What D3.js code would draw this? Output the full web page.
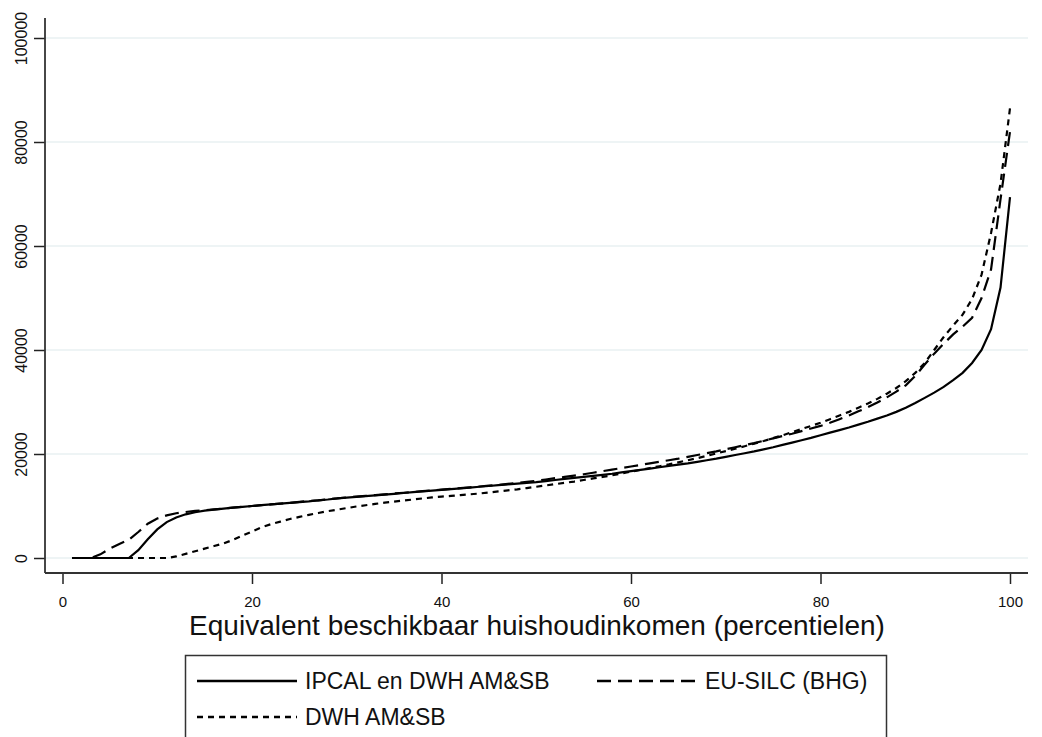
<!DOCTYPE html>
<html>
<head>
<meta charset="utf-8">
<script src="https://d3js.org/d3.v7.min.js"></script>
<style>
  body { margin: 0; background: #fff; }
  svg { display: block; font-family: "Liberation Sans", Arial, sans-serif; }
</style>
</head>
<body>
<svg id="chart" width="1042" height="737"></svg>
<script>
// percentiles of equivalent disposable household income
const percentiles = [
  1, 2, 3, 4, 5, 6, 7, 8, 9, 10, 11, 12, 13, 14, 15, 16, 17, 18, 19, 20,
  21, 22, 23, 24, 25, 26, 27, 28, 29, 30, 31, 32, 33, 34, 35, 36, 37, 38, 39, 40,
  41, 42, 43, 44, 45, 46, 47, 48, 49, 50, 51, 52, 53, 54, 55, 56, 57, 58, 59, 60,
  61, 62, 63, 64, 65, 66, 67, 68, 69, 70, 71, 72, 73, 74, 75, 76, 77, 78, 79, 80,
  81, 82, 83, 84, 85, 86, 87, 88, 89, 90, 91, 92, 93, 94, 95, 96, 97, 98, 99, 100
];

const ipcal = [
  0, 0, 0, 0, 0, 0, 0, 1500, 3600, 5500,
  6900, 7800, 8400, 8800, 9100, 9300, 9500, 9700, 9850, 10000,
  10150, 10300, 10450, 10600, 10750, 10900, 11100, 11250, 11450, 11600,
  11750, 11900, 12050, 12200, 12350, 12500, 12650, 12800, 12950, 13100,
  13250, 13400, 13550, 13700, 13850, 14000, 14150, 14300, 14450, 14600,
  14800, 15000, 15200, 15400, 15600, 15800, 16000, 16200, 16450, 16700,
  16950, 17200, 17450, 17700, 17950, 18200, 18500, 18800, 19100, 19450,
  19800, 20150, 20500, 20900, 21300, 21750, 22200, 22650, 23100, 23600,
  24100, 24600, 25100, 25650, 26200, 26800, 27400, 28100, 28900, 29800,
  30800, 31800, 32900, 34200, 35600, 37500, 40000, 44000, 52000, 69400
];

const eusilc = [
  0, 0, 0, 700, 1800, 2700, 3500, 5000, 6600, 7600,
  8200, 8600, 8850, 9050, 9200, 9350, 9500, 9700, 9850, 10000,
  10150, 10300, 10450, 10600, 10800, 10950, 11100, 11300, 11450, 11650,
  11800, 11950, 12100, 12250, 12400, 12550, 12700, 12850, 13000, 13150,
  13300, 13450, 13600, 13750, 13900, 14050, 14250, 14450, 14650, 14850,
  15100, 15350, 15600, 15850, 16100, 16400, 16700, 17000, 17300, 17600,
  17900, 18200, 18500, 18800, 19100, 19450, 19800, 20150, 20500, 20900,
  21300, 21700, 22100, 22550, 23000, 23450, 23900, 24400, 24900, 25400,
  26000, 26700, 27400, 28200, 29000, 29900, 30900, 32000, 33200, 35000,
  37200, 39300, 41200, 43000, 44500, 46200, 50000, 55500, 69000, 82000
];

const dwh = [
  0, 0, 0, 0, 0, 0, 0, 0, 0, 0,
  0, 300, 800, 1300, 1800, 2300, 2800, 3500, 4300, 5100,
  5900, 6500, 7000, 7500, 7900, 8300, 8650, 9000, 9300, 9600,
  9900, 10150, 10400, 10650, 10850, 11050, 11250, 11450, 11650, 11800,
  11950, 12100, 12250, 12400, 12600, 12800, 13000, 13200, 13450, 13700,
  13950, 14200, 14450, 14700, 15000, 15300, 15600, 15900, 16250, 16600,
  16950, 17300, 17650, 18000, 18400, 18800, 19200, 19650, 20100, 20550,
  21000, 21500, 22000, 22500, 23050, 23600, 24200, 24800, 25400, 26000,
  26700, 27400, 28100, 28900, 29700, 30600, 31600, 32700, 34000, 35600,
  37500, 40000, 42500, 44700, 46800, 49800, 54500, 62500, 72000, 86500
];

const xTicks = [0, 20, 40, 60, 80, 100];
const yTicks = [0, 20000, 40000, 60000, 80000, 100000];

const seriesNames = ["IPCAL en DWH AM&SB", "EU-SILC (BHG)", "DWH AM&SB"];
const xTitle = "Equivalent beschikbaar huishoudinkomen (percentielen)";

const svg = d3.select("#chart");

const plotLeft = 45, plotRight = 1028, plotTop = 18, plotBottom = 573;

const x = d3.scaleLinear().domain([0, 100]).range([62.5, 1010]);
const y = d3.scaleLinear().domain([0, 100000]).range([558, 38]);

// grid lines
svg.append("g")
  .selectAll("line")
  .data(yTicks)
  .enter()
  .append("line")
    .attr("x1", plotLeft)
    .attr("x2", plotRight)
    .attr("y1", d => y(d))
    .attr("y2", d => y(d))
    .attr("stroke", "#e8f0f2")
    .attr("stroke-width", 1.5);

// y axis
const yAxis = svg.append("g")
  .attr("transform", "translate(" + plotLeft + ",0)")
  .call(d3.axisLeft(y).tickValues(yTicks).tickFormat(d3.format("d")).tickSize(11).tickSizeOuter(0));
yAxis.select(".domain").remove();
yAxis.selectAll(".tick line").attr("stroke", "#222").attr("stroke-width", 1.5);
yAxis.selectAll(".tick text")
  .attr("x", 0)
  .attr("y", -18)
  .attr("dy", 0)
  .attr("transform", "rotate(-90)")
  .style("text-anchor", "middle")
  .style("font-size", "16px")
  .attr("fill", "#111");
yAxis.append("line")
  .attr("x1", 0).attr("x2", 0)
  .attr("y1", plotTop).attr("y2", plotBottom)
  .attr("stroke", "#333").attr("stroke-width", 1.8);

// x axis
const xAxis = svg.append("g")
  .attr("transform", "translate(0," + plotBottom + ")")
  .call(d3.axisBottom(x).tickValues(xTicks).tickSize(11).tickPadding(12).tickSizeOuter(0));
xAxis.select(".domain").remove();
xAxis.selectAll(".tick line").attr("stroke", "#222").attr("stroke-width", 1.5);
xAxis.selectAll(".tick text")
  .style("font-size", "15px")
  .attr("fill", "#111");
xAxis.append("line")
  .attr("x1", plotLeft).attr("x2", plotRight)
  .attr("y1", 0).attr("y2", 0)
  .attr("stroke", "#333").attr("stroke-width", 1.8);

svg.append("text")
  .attr("x", 537)
  .attr("y", 635)
  .attr("text-anchor", "middle")
  .style("font-size", "28px")
  .attr("fill", "#111")
  .text(xTitle);

// lines
const styles = [
  { values: ipcal,  dash: null },
  { values: eusilc, dash: "14,7" },
  { values: dwh,    dash: "6,5" }
];

const line = d3.line()
  .x(d => x(d[0]))
  .y(d => y(d[1]));

styles.forEach(s => {
  svg.append("path")
    .datum(percentiles.map((p, i) => [p, s.values[i]]))
    .attr("d", line)
    .attr("fill", "none")
    .attr("stroke", "#000")
    .attr("stroke-width", 2.2)
    .attr("stroke-dasharray", s.dash);
});

// legend
const legend = svg.append("g");
legend.append("rect")
  .attr("x", 185.5).attr("y", 655.5)
  .attr("width", 701).attr("height", 120)
  .attr("fill", "#fff")
  .attr("stroke", "#333")
  .attr("stroke-width", 1.5);

const legendItems = [
  { name: seriesNames[0], dash: null,   lx: 197, ly: 681 },
  { name: seriesNames[1], dash: "14,7", lx: 597, ly: 681 },
  { name: seriesNames[2], dash: "6,5",  lx: 197, ly: 717 }
];

legendItems.forEach(item => {
  legend.append("line")
    .attr("x1", item.lx).attr("x2", item.lx + 100)
    .attr("y1", item.ly).attr("y2", item.ly)
    .attr("stroke", "#000")
    .attr("stroke-width", 2.4)
    .attr("stroke-dasharray", item.dash);
  legend.append("text")
    .attr("x", item.lx + 108)
    .attr("y", item.ly)
    .attr("dy", "0.36em")
    .style("font-size", "23px")
    .attr("fill", "#111")
    .text(item.name);
});
</script>
</body>
</html>
